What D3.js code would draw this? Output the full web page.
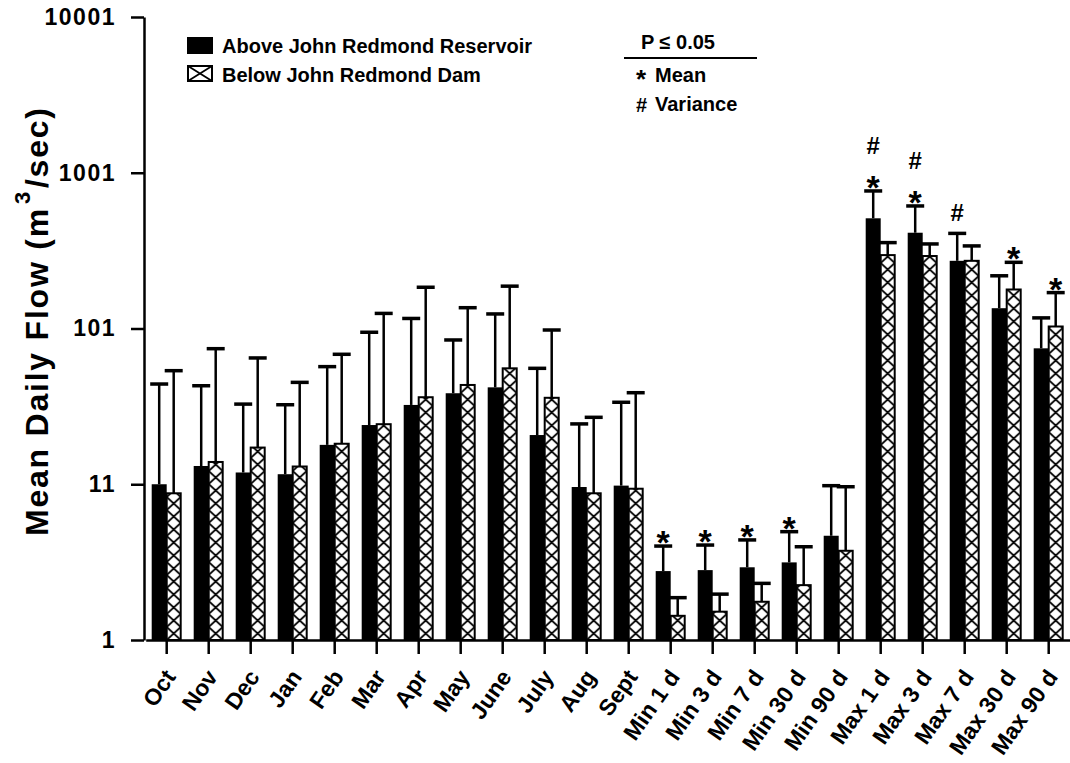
<!DOCTYPE html>
<html>
<head>
<meta charset="utf-8">
<script src="https://cdn.jsdelivr.net/npm/d3@7"></script>
<style>
  body { margin: 0; background: #fff; }
  svg { display: block; font-family: "Liberation Sans", Arial, sans-serif; font-weight: bold; }
</style>
</head>
<body>
<svg id="chart" width="1070" height="763"></svg>
<script>
// categories along the x axis
const categories = ["Oct", "Nov", "Dec", "Jan", "Feb", "Mar", "Apr", "May", "June", "July", "Aug", "Sept",
    "Min 1 d", "Min 3 d", "Min 7 d", "Min 30 d", "Min 90 d",
    "Max 1 d", "Max 3 d", "Max 7 d", "Max 30 d", "Max 90 d"];

// Above John Redmond Reservoir: mean and top of error bar (axis units)
const aboveMean = [10.0, 13.1, 11.9, 11.6, 17.9, 24.0, 32.3, 38.4, 41.9, 20.7, 9.6, 9.8,
    2.77, 2.81, 2.93, 3.15, 4.67, 510, 412, 272, 135, 74.6];
const aboveErr = [44.0, 42.9, 32.7, 32.4, 56.9, 94.6, 116, 84.4, 124, 55.5, 24.4, 33.6,
    4.01, 4.07, 4.39, 4.96, 9.79, 764, 612, 408, 218, 117];

// Below John Redmond Dam
const belowMean = [8.75, 13.9, 17.2, 13.0, 18.2, 24.3, 36.2, 43.4, 55.5, 35.9, 8.75, 9.36,
    1.43, 1.52, 1.76, 2.25, 3.74, 296, 292, 272, 178, 103];
const belowErr = [53.6, 74.2, 64.7, 45.1, 68.3, 125, 184, 136, 187, 97.8, 26.9, 38.7,
    1.87, 1.97, 2.31, 3.97, 9.64, 356, 349, 339, 266, 170];

// significant differences (P <= 0.05)
const meanSigAbove = ["Min 1 d", "Min 3 d", "Min 7 d", "Min 30 d", "Max 1 d", "Max 3 d"];
const meanSigBelow = ["Max 30 d", "Max 90 d"];
const varSigAbove = ["Max 1 d", "Max 3 d", "Max 7 d"];

// y axis ticks
const tickValues = [1, 10, 100, 1000, 10000];
const tickLabels = ["1", "11", "101", "1001", "10001"];

const seriesNames = ["Above John Redmond Reservoir", "Below John Redmond Dam"];

const svg = d3.select("svg#chart");
const width = 1070, height = 763;
const margin = { top: 17, right: 0, bottom: 122, left: 144 };

const x = d3.scaleBand()
    .domain(categories)
    .range([145.7, 1069.7]);

const y = d3.scaleLog()
    .domain([1, 10000])
    .range([height - margin.bottom - 1, margin.top]);

const blackW = 15, hatchW = 14;
const cx = d => x(d) + x.bandwidth() / 2;

// hatch patterns, one per bar so the crosses line up with each bar
const defs = svg.append("defs");
const pat = defs.selectAll("pattern").data(categories).join("pattern")
    .attr("id", (d, i) => "hx" + i)
    .attr("patternUnits", "userSpaceOnUse")
    .attr("x", d => cx(d))
    .attr("y", y(1))
    .attr("width", hatchW)
    .attr("height", 13);
pat.append("rect").attr("width", hatchW).attr("height", 13).attr("fill", "#fff");
pat.append("path")
    .attr("d", `M0,0L${hatchW},13M${hatchW},0L0,13`)
    .attr("stroke", "#000")
    .attr("stroke-width", 1.8);

// bars
svg.append("g").selectAll("rect").data(categories).join("rect")
    .attr("x", d => cx(d) - blackW)
    .attr("y", (d, i) => y(aboveMean[i]))
    .attr("width", blackW)
    .attr("height", (d, i) => y(1) - y(aboveMean[i]))
    .attr("fill", "#000");

svg.append("g").selectAll("rect").data(categories).join("rect")
    .attr("x", d => cx(d))
    .attr("y", (d, i) => y(belowMean[i]))
    .attr("width", hatchW)
    .attr("height", (d, i) => y(1) - y(belowMean[i]))
    .attr("fill", (d, i) => `url(#hx${i})`)
    .attr("stroke", "#000")
    .attr("stroke-width", 2);

// error bars (upper only)
function errorBars(mean, err, offset) {
    const g = svg.append("g").attr("stroke", "#000");
    g.selectAll("line.v").data(categories).join("line")
        .attr("class", "v")
        .attr("x1", d => cx(d) + offset).attr("x2", d => cx(d) + offset)
        .attr("y1", (d, i) => y(mean[i]))
        .attr("y2", (d, i) => y(err[i]))
        .attr("stroke-width", 2.5);
    g.selectAll("line.c").data(categories).join("line")
        .attr("class", "c")
        .attr("x1", d => cx(d) + offset - 9).attr("x2", d => cx(d) + offset + 9)
        .attr("y1", (d, i) => y(err[i]))
        .attr("y2", (d, i) => y(err[i]))
        .attr("stroke-width", 3.5);
}
errorBars(aboveMean, aboveErr, -blackW / 2);
errorBars(belowMean, belowErr, hatchW / 2);

// significance marks
const idx = d => categories.indexOf(d);
const marks = svg.append("g").attr("text-anchor", "middle");
marks.selectAll("text.ma").data(meanSigAbove).join("text")
    .attr("class", "ma")
    .attr("x", d => cx(d) - blackW / 2)
    .attr("y", d => y(aboveErr[idx(d)]) + 8)
    .attr("font-size", 34)
    .text("*");
marks.selectAll("text.mb").data(meanSigBelow).join("text")
    .attr("class", "mb")
    .attr("x", d => cx(d) + hatchW / 2)
    .attr("y", d => y(belowErr[idx(d)]) + 8)
    .attr("font-size", 34)
    .text("*");
marks.selectAll("text.va").data(varSigAbove).join("text")
    .attr("class", "va")
    .attr("x", d => cx(d) - blackW / 2)
    .attr("y", d => y(aboveErr[idx(d)]) - (meanSigAbove.includes(d) ? 37 : 12))
    .attr("font-size", 24)
    .text("#");

// x axis
svg.append("g")
    .attr("transform", `translate(0,${y(1)})`)
    .call(d3.axisBottom(x).tickSize(14).tickSizeOuter(0))
    .attr("font-family", null)
    .call(g => g.select(".domain").attr("stroke-width", 2.5))
    .call(g => g.selectAll(".tick line").attr("stroke-width", 2.5))
    .selectAll("text")
    .attr("x", 0).attr("y", 0).attr("dy", 0)
    .attr("font-size", 23)
    .attr("fill", "#000")
    .style("text-anchor", "end")
    .attr("transform", "translate(10,37) rotate(-55)");

// y axis
svg.append("g")
    .attr("transform", `translate(${margin.left},0)`)
    .call(d3.axisLeft(y).tickValues(tickValues).tickFormat((d, i) => tickLabels[i]).tickSize(13).tickSizeOuter(0))
    .attr("font-family", null)
    .call(g => g.select(".domain").attr("stroke-width", 2.5))
    .call(g => g.selectAll(".tick line").attr("stroke-width", 2.5))
    .selectAll("text")
    .attr("font-size", 23)
    .attr("letter-spacing", 1.5)
    .attr("fill", "#000")
    .attr("x", -28);

// y axis title
const title = svg.append("text")
    .attr("transform", "translate(48,322) rotate(-90)")
    .attr("text-anchor", "middle")
    .attr("font-size", 32)
    .attr("textLength", 428)
    .attr("lengthAdjust", "spacing");
title.append("tspan").text("Mean Daily Flow (m");
title.append("tspan").attr("font-size", 22).attr("dy", -18).attr("dx", 3).text("3");
title.append("tspan").attr("dy", 18).attr("dx", 2).text("/sec)");

// legend
const legend = svg.append("g").attr("font-size", 20);
legend.append("rect").attr("x", 187).attr("y", 37).attr("width", 26).attr("height", 17).attr("fill", "#000");
legend.append("rect").attr("x", 188).attr("y", 66).attr("width", 24).attr("height", 15)
    .attr("fill", "#fff").attr("stroke", "#000").attr("stroke-width", 2);
legend.append("path").attr("d", "M188,66L212,81M212,66L188,81").attr("stroke", "#000").attr("stroke-width", 1.8);
legend.selectAll("text").data(seriesNames).join("text")
    .attr("x", 222)
    .attr("y", (d, i) => 53 + i * 29)
    .text(d => d);

const key = svg.append("g").attr("font-size", 20);
key.append("text").attr("x", 641).attr("y", 49).text("P ≤ 0.05");
key.append("line").attr("x1", 624).attr("x2", 757).attr("y1", 58).attr("y2", 58)
    .attr("stroke", "#000").attr("stroke-width", 2);
key.append("text").attr("x", 636).attr("y", 88).attr("font-size", 26).text("*");
key.append("text").attr("x", 655).attr("y", 82).text("Mean");
key.append("text").attr("x", 636).attr("y", 112).attr("font-size", 20).text("#");
key.append("text").attr("x", 655).attr("y", 111).text("Variance");
</script>
</body>
</html>
